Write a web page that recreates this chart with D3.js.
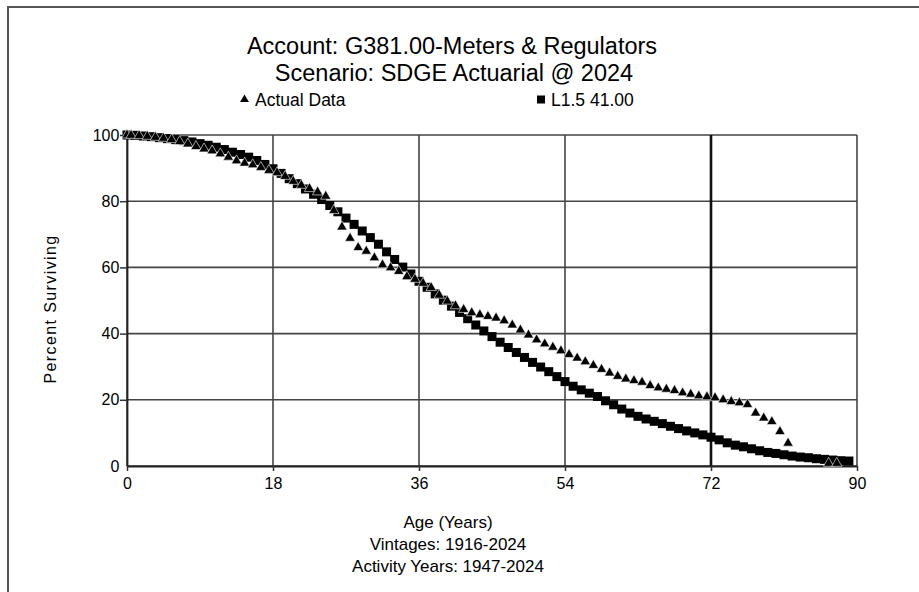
<!DOCTYPE html>
<html><head><meta charset="utf-8">
<script src="https://cdn.jsdelivr.net/npm/d3@7"></script>
<style>html,body{margin:0;padding:0;background:#fff;}svg{display:block;}</style>
</head><body>
<script>
const titleLines = ["Account: G381.00-Meters & Regulators", "Scenario: SDGE Actuarial @ 2024"];
const legendLabels = ["Actual Data", "L1.5 41.00"];
const xTicks = [0, 18, 36, 54, 72, 90];
const yTicks = [0, 20, 40, 60, 80, 100];
const xTitleLines = ["Age (Years)", "Vintages: 1916-2024", "Activity Years: 1947-2024"];
const yTitle = "Percent Surviving";

// L1.5 41.00 curve (squares)
const curveAges = d3.range(0, 90);
const curveValues = [100,99.9,99.7,99.5,99.2,98.9,98.6,98.3,97.9,97.4,
 96.9,96.3,95.6,94.8,94.1,93.3,92.3,91.1,89.8,88.4,
 86.8,85.3,83.7,82.1,80.5,78.7,76.8,74.9,73.0,71.0,
 69.0,67.0,64.7,62.4,60.1,58.0,55.8,54.0,52.0,50.1,
 48.3,46.4,44.5,42.6,40.8,39.1,37.4,35.8,34.3,32.8,
 31.3,29.9,28.5,27.0,25.5,24.1,23.0,22.0,21.0,19.7,
 18.5,17.2,16.0,15.0,14.2,13.5,12.8,12.0,11.3,10.6,
 10.0,9.4,8.7,7.9,7.0,6.3,5.8,5.2,4.6,4.1,
 3.8,3.4,3.0,2.7,2.5,2.2,2.0,1.8,1.6,1.5];

// Actual data (triangles)
const actualAges = [0,0.5,1.5,2.5,3.5,4.5,5.5,6.5,7.5,8.5,9.5,10.5,11.5,12.5,13.5,14.5,15.5,16.5,17.5,18.5,19.5,
 20.5,21.5,22.5,23.5,24.5,25.5,26.5,27.5,28.5,29.5,30.5,31.5,32.5,33.5,34.5,35.5,36.5,37.5,38.5,39.5,
 40.5,41.5,42.5,43.5,44.5,45.5,46.5,47.5,48.5,49.5,50.5,51.5,52.5,53.5,54.5,55.5,56.5,57.5,58.5,59.5,
 60.5,61.5,62.5,63.5,64.5,65.5,66.5,67.5,68.5,69.5,70.5,71.5,72.5,73.5,74.5,75.5,76.5,77.5,78.5,79.5,
 80.5,81.5,86.5,87.5];
const actualValues = [100,99.9,99.8,99.6,99.3,99.0,98.6,98.0,97.3,96.5,95.8,95.2,94.3,93.3,92.2,91.5,91.0,90.2,89.3,88.6,87.5,
 86.0,84.8,83.8,82.8,81.5,77.2,72.2,68.8,66.0,64.9,62.9,60.8,59.9,58.8,57.2,56.4,55.2,53.9,51.6,49.8,
 48.4,47.3,46.3,45.7,45.2,44.7,43.9,42.6,41.1,39.6,38.1,36.9,35.9,34.8,33.7,32.6,31.5,30.4,29.2,28.1,
 27.1,26.3,25.8,25.3,24.3,23.6,23.2,22.8,22.1,21.7,21.2,20.9,20.6,20.0,19.5,19.1,18.6,16.0,14.5,13.4,
 10.4,6.9,0.8,0.8];

const W = 919, H = 592;
const m = {left: 127, right: 919-857, top: 135, bottom: 592-466};
const svg = d3.select("body").append("svg").attr("width", W).attr("height", H);
svg.append("rect").attr("width", W).attr("height", H).attr("fill", "#fff");

// outer frame (top and left edges visible)
svg.append("path").attr("d", `M8,${H} L8,7 L${W},7`).attr("fill", "none")
  .attr("stroke", "#555").attr("stroke-width", 2);

const x = d3.scaleLinear().domain([0, 90]).range([m.left, W - m.right]);
const y = d3.scaleLinear().domain([0, 100]).range([H - m.bottom, m.top]);
const font = "'Liberation Sans', Arial, sans-serif";

// titles
svg.append("text").attr("x", 452).attr("y", 54).attr("text-anchor", "middle")
  .attr("font-family", font).attr("font-size", 23.5).attr("fill", "#000").text(titleLines[0]);
svg.append("text").attr("x", 454).attr("y", 81).attr("text-anchor", "middle")
  .attr("font-family", font).attr("font-size", 23.5).attr("fill", "#000").text(titleLines[1]);

// legend
const legX = [240, 536];
legendLabels.forEach((lab, i) => {
  const g = svg.append("g").attr("transform", `translate(${legX[i]},100)`);
  if (i === 0) g.append("path").attr("d", d3.symbol(d3.symbolTriangle, 34)()).attr("transform", "translate(4.5,-0.5)").attr("fill", "#000");
  else g.append("rect").attr("x", 1).attr("y", -4.5).attr("width", 8).attr("height", 8).attr("fill", "#000");
  g.append("text").attr("x", 15).attr("y", 6).attr("font-family", font).attr("font-size", 17.5)
    .attr("fill", "#000").text(lab);
});

// gridlines
const grid = svg.append("g");
yTicks.forEach(t => {
  grid.append("line").attr("x1", x(0)).attr("x2", x(90)).attr("y1", y(t)).attr("y2", y(t))
    .attr("stroke", "#444").attr("stroke-width", 1.6);
});
xTicks.forEach(t => {
  grid.append("line").attr("x1", x(t)).attr("x2", x(t)).attr("y1", y(0)).attr("y2", y(100))
    .attr("stroke", t === 72 ? "#111" : "#444").attr("stroke-width", t === 72 ? 2.6 : 1.6);
});

// axes
const xAxis = svg.append("g").attr("transform", `translate(0,${y(0)})`)
  .call(d3.axisBottom(x).tickValues(xTicks).tickSize(5).tickSizeOuter(0));
const yAxis = svg.append("g").attr("transform", `translate(${x(0)},0)`)
  .call(d3.axisLeft(y).tickValues(yTicks).tickSize(7).tickSizeOuter(0));
[xAxis, yAxis].forEach(a => {
  a.select(".domain").attr("stroke", "#222").attr("stroke-width", 1.8);
  a.selectAll(".tick line").attr("stroke", "#333").attr("stroke-width", 1.5);
  a.selectAll("text").attr("font-family", font).attr("font-size", 16).attr("fill", "#000");
});
xAxis.selectAll("text").attr("dy", "0.95em");
yAxis.selectAll("text").attr("dx", "0.15em");
yAxis.selectAll(".tick").filter(d => d === 0).select("line").remove();

// axis titles
svg.append("text").attr("transform", `translate(56,309) rotate(-90)`).attr("text-anchor", "middle")
  .attr("font-family", font).attr("font-size", 16).attr("letter-spacing", 1.4).attr("fill", "#000").text(yTitle);
xTitleLines.forEach((t, i) => {
  svg.append("text").attr("x", 448).attr("y", 528 + i * 22).attr("text-anchor", "middle")
    .attr("font-family", font).attr("font-size", 17).attr("fill", "#000").text(t);
});

// series
const sq = 9;
svg.append("g").selectAll("rect").data(curveAges).join("rect")
  .attr("x", (d, i) => x(d) - sq / 2).attr("y", (d, i) => y(curveValues[i]) - sq / 2)
  .attr("width", sq).attr("height", sq).attr("fill", "#000");
const tri = d3.symbol(d3.symbolTriangle, 46)();
svg.append("g").selectAll("path").data(actualAges).join("path")
  .attr("d", tri)
  .attr("transform", (d, i) => `translate(${x(d)},${y(actualValues[i])})`)
  .attr("fill", "#000").attr("stroke", "#fff").attr("stroke-width", 0.6);
</script>
</body></html>
